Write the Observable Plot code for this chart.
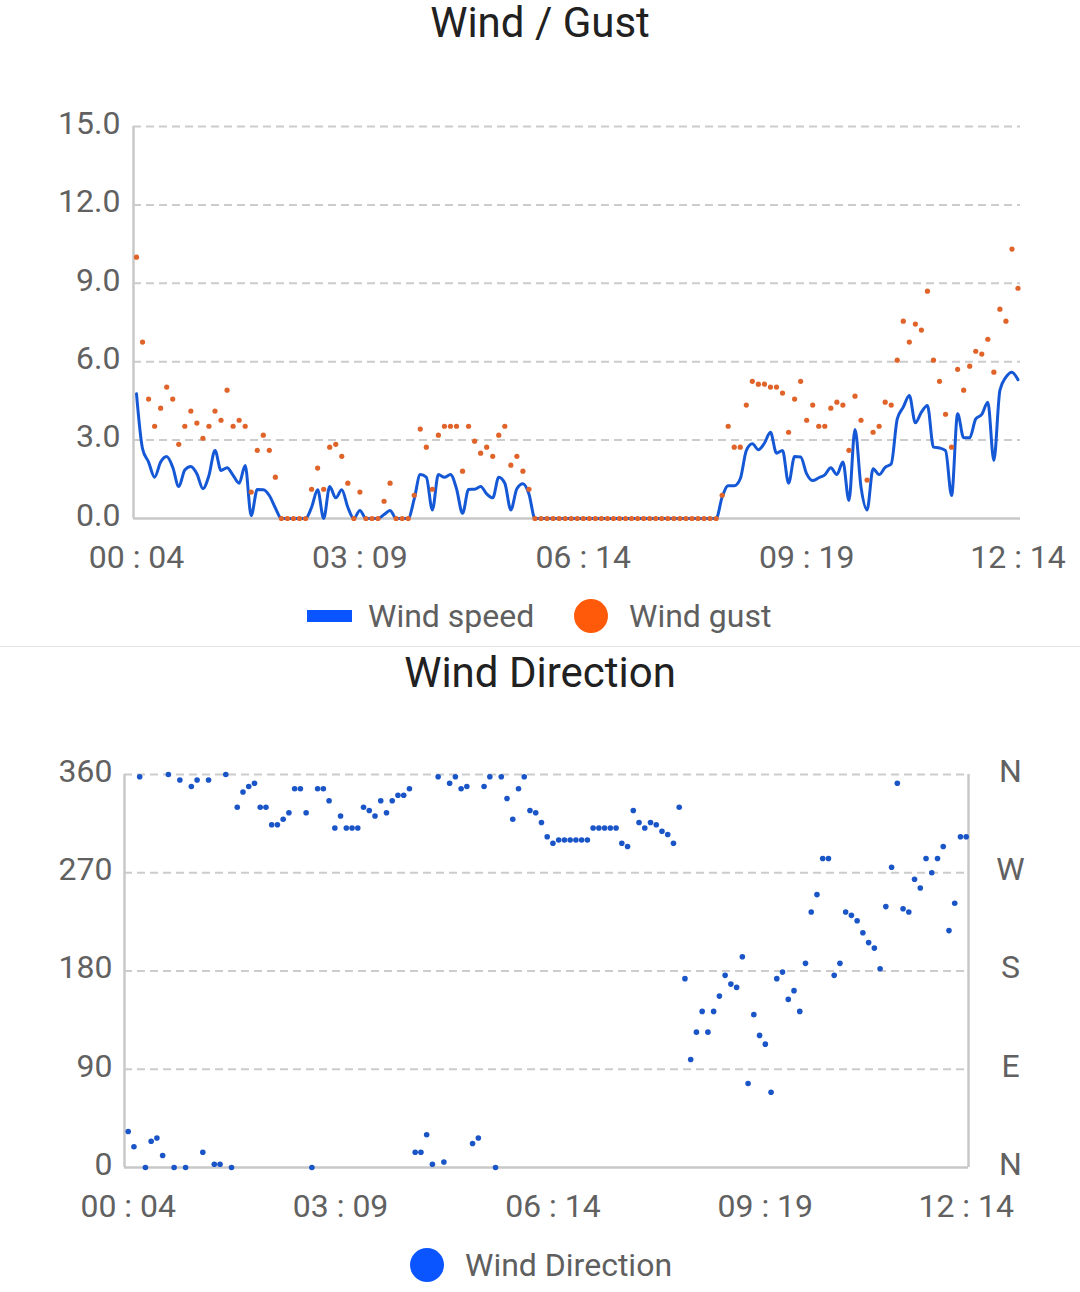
<!DOCTYPE html>
<html>
<head>
<meta charset="utf-8">
<script src="https://cdn.jsdelivr.net/npm/d3@7"></script>
<script src="https://cdn.jsdelivr.net/npm/@observablehq/plot@0.6"></script>
<style>
  html, body { margin: 0; padding: 0; background: #fff; }
  body { width: 1080px; height: 1292px; position: relative; overflow: hidden; font-family: Roboto, "Noto Sans", sans-serif; }
  .title { position: absolute; left: 0; width: 1080px; text-align: center; font-size: 42px; line-height: 42px; color: #212121; }
  .chart { position: absolute; left: 0; }
  .sep { position: absolute; left: 0; top: 646px; width: 1080px; height: 1px; background: #e3e3e3; }
  .leg { position: absolute; display: flex; align-items: center; height: 40px; font-size: 32px; line-height: 32px; color: #5f5f5f; }
  .bar { width: 45px; height: 12px; background: #0a55ff; }
  .circ { width: 34px; height: 34px; border-radius: 50%; }
</style>
</head>
<body>
<div class="title" style="top:2px">Wind / Gust</div>
<div id="c1" class="chart" style="top:90px"></div>
<div class="leg" style="left:307px; top:596px"><div class="bar"></div><span style="margin-left:16px">Wind speed</span></div>
<div class="leg" style="left:574px; top:596px"><div class="circ" style="background:#ff5a0a"></div><span style="margin-left:21px">Wind gust</span></div>
<div class="sep"></div>
<div class="title" style="top:652px">Wind Direction</div>
<div id="c2" class="chart" style="top:740px"></div>
<div class="leg" style="left:410px; top:1245px"><div class="circ" style="background:#0a55ff"></div><span style="margin-left:21px">Wind Direction</span></div>
<script>
// ---- data (5-minute samples from 00:04 to 12:14) ----
const startTime = "00:04";
const stepMinutes = 5;
const tickLabels = ["00:04", "03:09", "06:14", "09:19", "12:14"];
const speedTicks = [0, 3, 6, 9, 12, 15];
const dirTicks = [0, 90, 180, 270, 360];
const dirLabels = ["N", "E", "S", "W", "N"];

const windSpeed = [
  4.77, 2.67, 2.16, 1.58, 2.16, 2.37, 1.96, 1.22, 1.86, 1.99,
  1.71, 1.14, 1.65, 2.60, 1.84, 1.94, 1.65, 1.35, 2.03, 0.11,
  1.11, 1.10, 0.88, 0.40, 0, 0, 0, 0, 0, 0.43,
  1.10, 0, 1.22, 0.79, 1.10, 0.43, 0, 0.31, 0, 0,
  0, 0.15, 0.31, 0, 0, 0, 0.75, 1.68, 1.58, 0.33,
  1.68, 1.58, 1.68, 1.14, 0.20, 1.11, 1.12, 1.22, 0.94, 0.79,
  1.58, 1.35, 0.33, 1.14, 1.33, 0.94, 0, 0, 0, 0,
  0, 0, 0, 0, 0, 0, 0, 0, 0, 0,
  0, 0, 0, 0, 0, 0, 0, 0, 0, 0,
  0, 0, 0, 0, 0, 0, 0, 0.82, 1.25, 1.25,
  1.52, 2.60, 2.86, 2.63, 2.88, 3.30, 2.50, 2.60, 1.35, 2.37,
  2.35, 1.71, 1.45, 1.56, 1.67, 1.94, 1.68, 2.16, 0.69, 3.41,
  1.20, 0.33, 1.90, 1.68, 1.96, 2.09, 3.81, 4.26, 4.71, 3.66,
  4.07, 4.32, 2.73, 2.70, 2.60, 0.88, 4.01, 3.09, 3.09, 3.81,
  3.98, 4.45, 2.22, 4.90, 5.41, 5.60, 5.31
];

const windGust = [
  10.0, 6.75, 4.57, 3.53, 4.22, 5.03, 4.57, 2.84, 3.53, 4.11,
  3.65, 3.07, 3.53, 4.11, 3.76, 4.91, 3.53, 3.76, 3.53, 1.01,
  2.61, 3.19, 2.61, 1.58, 0, 0, 0, 0, 0, 1.12,
  1.93, 1.12, 2.73, 2.84, 2.38, 1.35, 0, 1.01, 0, 0,
  0, 0.66, 1.35, 0, 0, 0, 0.89, 3.42, 2.73, 1.12,
  3.19, 3.53, 3.53, 3.53, 1.81, 3.53, 2.96, 2.50, 2.73, 2.38,
  3.19, 3.53, 2.04, 2.38, 1.81, 1.12, 0, 0, 0, 0,
  0, 0, 0, 0, 0, 0, 0, 0, 0, 0,
  0, 0, 0, 0, 0, 0, 0, 0, 0, 0,
  0, 0, 0, 0, 0, 0, 0, 0.89, 3.53, 2.73,
  2.73, 4.34, 5.25, 5.14, 5.14, 5.03, 5.03, 4.80, 3.30, 4.57,
  5.25, 3.76, 4.34, 3.53, 3.53, 4.22, 4.45, 4.34, 2.61, 4.68,
  3.76, 1.47, 3.30, 3.53, 4.45, 4.34, 6.06, 7.55, 6.75, 7.44,
  7.21, 8.70, 6.06, 5.25, 3.99, 2.73, 5.71, 4.91, 5.83, 6.40,
  6.29, 6.86, 5.60, 8.01, 7.55, 10.31, 8.81
];

const windDirection = [
  33, 19, 358, 0, 24, 27, 11, 360, 0, 355,
  0, 349, 355, 14, 355, 3, 3, 360, 0, 330,
  344, 349, 352, 330, 330, 314, 314, 319, 325, 347,
  347, 325, 0, 347, 347, 336, 311, 322, 311, 311,
  311, 330, 327, 322, 336, 325, 336, 341, 341, 347,
  14, 14, 30, 3, 358, 5, 352, 358, 347, 349,
  22, 27, 349, 358, 0, 358, 338, 319, 347, 358,
  327, 325, 316, 303, 297, 300, 300, 300, 300, 300,
  300, 311, 311, 311, 311, 311, 297, 294, 327, 316,
  311, 316, 314, 308, 305, 297, 330, 173, 99, 124,
  143, 124, 143, 157, 176, 168, 165, 193, 77, 140,
  121, 113, 69, 173, 179, 154, 162, 143, 187, 234,
  250, 283, 283, 176, 187, 234, 231, 226, 215, 206,
  201, 182, 239, 275, 352, 237, 234, 264, 256, 283,
  270, 283, 294, 217, 242, 303, 303
];

// ---- helpers ----
const toMin = s => { const [h, m] = s.split(":").map(Number); return h * 60 + m; };
const fmtTime = m => { const h = Math.floor(m / 60), mm = m % 60; return String(h).padStart(2, "0") + " : " + String(mm).padStart(2, "0"); };
const t0 = toMin(startTime);
const tickMinutes = tickLabels.map(toMin);
const tEnd = tickMinutes[tickMinutes.length - 1];

const windRows = windSpeed.map((v, i) => ({t: t0 + i * stepMinutes, speed: v, gust: windGust[i]}));
const dirRows = windDirection.map((v, i) => ({t: t0 + i * stepMinutes, dir: v}));

const gridStyle = {stroke: "#cccccc", strokeWidth: 2, strokeDasharray: "8,5"};
const axisLine = {stroke: "#c8c8c8", strokeWidth: 2.5};
const font = {fontFamily: "Roboto, sans-serif", fontSize: "32px", color: "#616161", background: "transparent", overflow: "visible"};

// ---- chart 1: wind / gust ----
{
  const left = 133, right = 1020, p0 = 136, p1 = 1017.5;
  const k = (p1 - p0) / (tEnd - t0);
  const dom = [t0 - (p0 - left) / k, tEnd + (right - p1) / k];
  const chart = Plot.plot({
    width: 1080, height: 500,
    marginLeft: left, marginRight: 1080 - right, marginTop: 36, marginBottom: 72,
    style: font,
    x: {domain: dom, label: null},
    y: {domain: [0, 15], label: null},
    marks: [
      Plot.ruleY(speedTicks.filter(d => d > 0), gridStyle),
      Plot.ruleY([0], axisLine),
      Plot.ruleX([dom[0]], {...axisLine, y1: 0, y2: 15}),
      Plot.axisX({ticks: tickMinutes, tickFormat: fmtTime, tickSize: 0, tickPadding: 27, label: null}),
      Plot.axisY({ticks: speedTicks, tickFormat: d => d.toFixed(1), tickSize: 0, tickPadding: 13, dy: -3, label: null}),
      Plot.line(windRows, {x: "t", y: "speed", stroke: "#1558d6", strokeWidth: 3, curve: "monotone-x"}),
      Plot.dot(windRows, {x: "t", y: "gust", r: 2.6, fill: "#e0642a", stroke: "none"})
    ]
  });
  document.getElementById("c1").appendChild(chart);
}

// ---- chart 2: wind direction ----
{
  const left = 124, right = 968, p0 = 127.7, p1 = 965.7;
  const k = (p1 - p0) / (tEnd - t0);
  const dom = [t0 - (p0 - left) / k, tEnd + (right - p1) / k];
  const chart = Plot.plot({
    width: 1080, height: 500,
    marginLeft: left, marginRight: 1080 - right, marginTop: 34, marginBottom: 73,
    style: font,
    x: {domain: dom, label: null},
    y: {domain: [0, 360], label: null},
    marks: [
      Plot.ruleY(dirTicks.filter(d => d > 0), gridStyle),
      Plot.ruleY([0], axisLine),
      Plot.ruleX([dom[0], dom[1]], {...axisLine, y1: 0, y2: 360}),
      Plot.axisX({ticks: tickMinutes, tickFormat: fmtTime, tickSize: 0, tickPadding: 27, label: null}),
      Plot.axisY({ticks: dirTicks, tickFormat: d => String(d), tickSize: 0, tickPadding: 12, dy: -3, label: null}),
      Plot.axisY({anchor: "right", ticks: dirTicks, tickFormat: d => dirLabels[dirTicks.indexOf(d)], tickSize: 0, tickPadding: 42, textAnchor: "middle", dy: -3, label: null}),
      Plot.dot(dirRows, {x: "t", y: "dir", r: 2.8, fill: "#1a55c8", stroke: "none"})
    ]
  });
  document.getElementById("c2").appendChild(chart);
}
</script>
</body>
</html>
